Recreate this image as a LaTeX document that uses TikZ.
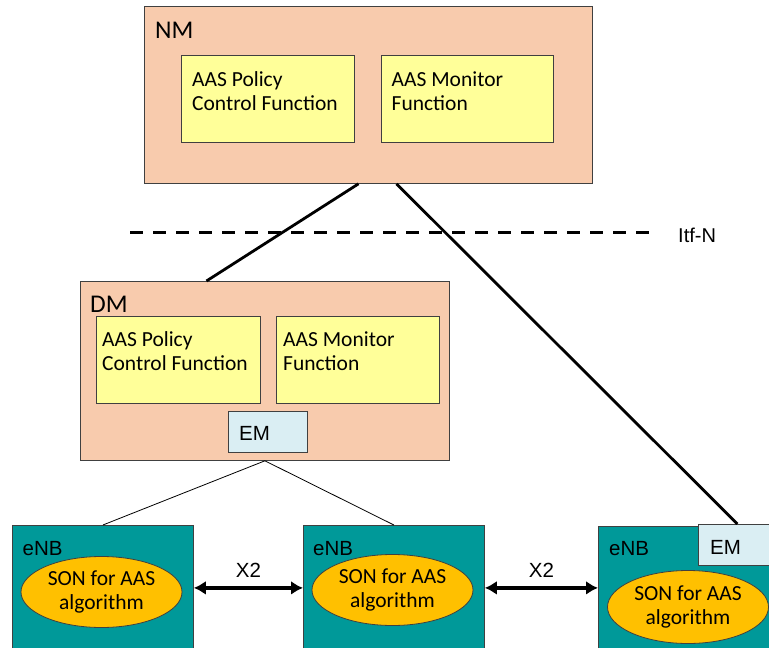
\documentclass[tikz,border=0pt]{standalone}
\usepackage{fontspec}
\setmainfont{Carlito}
\newfontfamily\arialf{Liberation Sans}
\usetikzlibrary{shapes.geometric,arrows.meta,calc}
\definecolor{peach}{HTML}{F8CBAD}
\definecolor{ylw}{HTML}{FFFF99}
\definecolor{lblue}{HTML}{DAEEF3}
\definecolor{teal2}{HTML}{009999}
\definecolor{amber}{HTML}{FFC000}
\definecolor{edge}{HTML}{404040}
\newcommand\twolines[2]{\vtop{\hbox{#1}\hbox{#2}}}
\tikzset{
  boxbase/.style={draw=edge, line width=0.8pt, rectangle, inner sep=0pt, anchor=north west},
  outer/.style={boxbase, fill=peach},
  func/.style={boxbase, fill=ylw},
  embox/.style={boxbase, fill=lblue},
  enbbox/.style={boxbase, fill=teal2},
  son/.style={ellipse, draw=edge, line width=0.8pt, fill=amber, inner sep=0pt, align=center,
     font=\fontsize{21.5}{24}\selectfont},
  ftext/.style={anchor=base west, inner sep=0pt, font=\fontsize{21.5}{24.7}\selectfont},
  big/.style={anchor=base west, inner sep=0pt, font=\fontsize{25.5}{30}\selectfont},
  atext/.style={anchor=base west, inner sep=0pt, font=\arialf\fontsize{20.5}{24}\selectfont},
  thickline/.style={line width=2.8pt},
  thinline/.style={line width=0.8pt},
  x2arrow/.style={line width=3.4pt, {Latex[length=12pt,width=14pt]}-{Latex[length=12pt,width=14pt]}},
}
\begin{document}
\begin{tikzpicture}[x=1pt,y=-1pt]
\useasboundingbox (0,0) rectangle (769,648);
\clip (0,0) rectangle (769,648);
% NM
\node[outer, minimum width=448, minimum height=177] (nm) at (144,6) {};
\node[big] (nmlab) at (155,38.5) {NM};
\node[func, minimum width=173, minimum height=87] (nmpol) at (181,55) {};
\node[func, minimum width=172, minimum height=87] (nmmon) at (381,55) {};
\node[ftext] (nmpolt) at (192,86) {\twolines{AAS Policy}{Control Function}};
\node[ftext] (nmmont) at (391.5,86) {\twolines{AAS Monitor}{Function}};
% Itf-N
\coordinate (dl) at (130,232.5);
\coordinate (dr) at (655,232.5);
\draw[line width=2.2pt, dash pattern=on 13pt off 10pt] (dl) -- (dr);
\node[atext, font=\arialf\fontsize{20}{24}\selectfont] (itf) at (678,242) {Itf-N};
% DM
\node[outer, minimum width=369, minimum height=179] (dm) at (80,281) {};
\node[big] (dmlab) at (90,312.5) {DM};
\node[func, minimum width=164, minimum height=87] (dmpol) at (96,316) {};
\node[func, minimum width=163, minimum height=87] (dmmon) at (276,316) {};
\node[ftext] (dmpolt) at (102,346) {\twolines{AAS Policy}{Control Function}};
\node[ftext] (dmmont) at (283,346) {\twolines{AAS Monitor}{Function}};
\node[embox, minimum width=79, minimum height=41] (dmem) at (228,411) {};
\node[atext] (dmemt) at (239,440.5) {EM};
% eNBs
\node[enbbox, minimum width=181, minimum height=125] (enb1) at (12,525) {};
\node[enbbox, minimum width=181, minimum height=125] (enb2) at (303,525) {};
\node[enbbox, minimum width=175, minimum height=125] (enb3) at (598,526) {};
\node[atext] (enb1t) at (22.5,555) {eNB};
\node[atext] (enb2t) at (313,555) {eNB};
\node[atext] (enb3t) at (609,555) {eNB};
\node[embox, minimum width=75, minimum height=41] (em3) at (698,524) {};
\node[atext] (em3t) at (710,554) {EM};
\node[son, minimum width=161, minimum height=71] (son1) at (101.5,592) {SON for AAS\\algorithm};
\node[son, minimum width=161, minimum height=71] (son2) at (392.5,590) {SON for AAS\\algorithm};
\node[son, minimum width=161, minimum height=73] (son3) at (688,607) {SON for AAS\\algorithm};
% connectors
\draw[thickline] ($(nm.south west)!0.478!(nm.south east)$) -- ($(dm.north west)!0.342!(dm.north east)$);
\draw[thickline] ($(nm.south west)!0.5625!(nm.south east)$) -- ($(em3.north west)!0.52!(em3.north east)$);
\draw[thinline] (dm.south) -- (enb1.north);
\draw[thinline] (dm.south) -- (enb2.north);
\draw[x2arrow] (enb1.east) -- (enb2.west) node[midway, above=9pt, inner sep=0pt, font=\arialf\fontsize{20.5}{24}\selectfont] (x2a) {X2};
\draw[x2arrow] (enb2.east) -- (enb3.west |- enb2.east) node[midway, above=9pt, inner sep=0pt, font=\arialf\fontsize{20.5}{24}\selectfont] (x2b) {X2};
\end{tikzpicture}
\end{document}
